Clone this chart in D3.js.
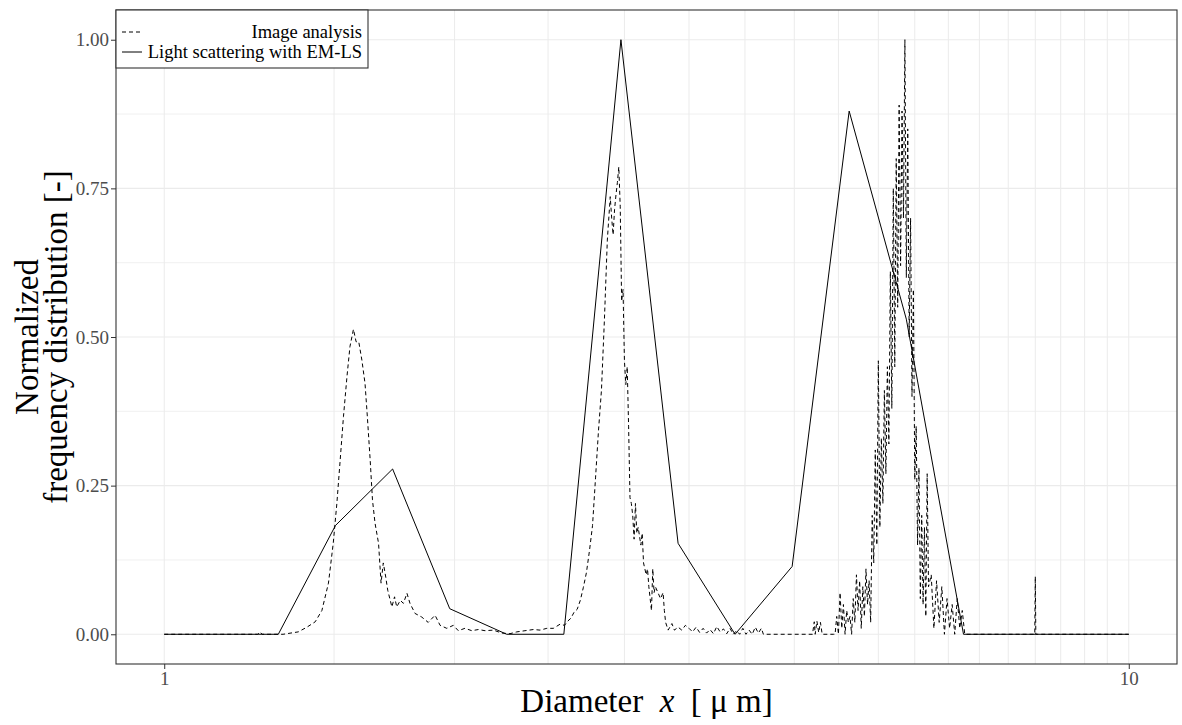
<!DOCTYPE html>
<html>
<head>
<meta charset="utf-8">
<script src="https://cdn.jsdelivr.net/npm/d3@7"></script>
<style>
body { margin: 0; background: #fff; }
text { font-family: "Liberation Serif", "Times New Roman", serif; }
</style>
</head>
<body>
<svg class="chart" width="1182" height="725"></svg>
<script>
// light scattering (EM-LS) result, log-spaced bins
var lsX = [1.00, 1.146, 1.313, 1.505, 1.725, 1.977, 2.265, 2.596, 2.975, 3.41, 3.907, 4.477, 5.13, 5.88, 6.74, 7.72, 8.85, 10.0];
var lsY = [0, 0, 0, 0.183, 0.278, 0.043, 0, 0, 1.0, 0.153, 0, 0.114, 0.88, 0.53, 0, 0, 0, 0];

// image analysis result
var imgX = [1.00, 1.25, 1.257, 1.263, 1.27, 1.328, 1.377, 1.406, 1.434, 1.457, 1.480, 1.497, 1.510, 1.522, 1.534, 1.547, 1.558, 1.571, 1.581, 1.591,
  1.603, 1.615, 1.624, 1.635, 1.644, 1.654, 1.668, 1.678, 1.687, 1.697, 1.705, 1.722, 1.733, 1.742, 1.757, 1.770, 1.785, 1.798, 1.820, 1.849,
  1.878, 1.909, 1.932, 1.963, 1.994, 2.018, 2.050, 2.084, 2.117, 2.151, 2.194, 2.239, 2.283, 2.320, 2.366, 2.414, 2.453, 2.493, 2.532, 2.573,
  2.60, 2.62, 2.64, 2.66, 2.68, 2.70, 2.72, 2.74, 2.76, 2.78, 2.80, 2.82, 2.84, 2.86, 2.88, 2.90, 2.91, 2.92, 2.93, 2.94,
  2.95, 2.96, 2.97, 2.98, 2.99, 3.00, 3.01, 3.02, 3.03, 3.04, 3.05, 3.06, 3.07, 3.08, 3.09, 3.10, 3.12, 3.13, 3.14, 3.16,
  3.17, 3.18, 3.19, 3.20, 3.21, 3.22, 3.23, 3.25, 3.27, 3.29, 3.30, 3.31, 3.33, 3.36, 3.38, 3.41, 3.44, 3.47, 3.50, 3.53,
  3.56, 3.59, 3.62, 3.65, 3.68, 3.71, 3.74, 3.77, 3.80, 3.83, 3.86, 3.89, 3.92, 3.95, 3.98, 4.01, 4.04, 4.07, 4.10, 4.13,
  4.16, 4.18, 4.70, 4.72, 4.73, 4.75, 4.77, 4.79, 4.81, 4.94, 4.96, 4.98, 5.00, 5.02, 5.04, 5.06, 5.08, 5.10, 5.12, 5.14,
  5.16, 5.18, 5.20, 5.22, 5.24, 5.26, 5.28, 5.30, 5.32, 5.34, 5.36, 5.38, 5.40, 5.42, 5.44, 5.46, 5.48, 5.50, 5.52, 5.54,
  5.56, 5.58, 5.60, 5.62, 5.64, 5.66, 5.68, 5.70, 5.72, 5.74, 5.76, 5.78, 5.80, 5.82, 5.84, 5.86, 5.88, 5.90, 5.92, 5.94,
  5.96, 5.98, 6.00, 6.02, 6.04, 6.06, 6.08, 6.10, 6.12, 6.14, 6.16, 6.18, 6.20, 6.24, 6.28, 6.32, 6.36, 6.40, 6.44, 6.48,
  6.52, 6.56, 6.60, 6.64, 6.68, 6.72, 6.76, 7.99, 8.00, 8.01, 10.0];
var imgY = [0, 0, 0.004, 0, 0, 0, 0.004, 0.012, 0.021, 0.040, 0.086, 0.153, 0.220, 0.293, 0.366, 0.434, 0.484, 0.513, 0.492, 0.492,
  0.461, 0.422, 0.366, 0.293, 0.226, 0.187, 0.153, 0.086, 0.120, 0.096, 0.074, 0.046, 0.063, 0.046, 0.057, 0.052, 0.069, 0.052, 0.035, 0.029,
  0.020, 0.032, 0.015, 0.010, 0.015, 0.006, 0.010, 0.006, 0.008, 0.006, 0.007, 0.002, 0.001, 0.004, 0.006, 0.008, 0.007, 0.010, 0.010, 0.017,
  0.015, 0.022, 0.027, 0.037, 0.042, 0.057, 0.079, 0.104, 0.141, 0.183, 0.263, 0.343, 0.411, 0.529, 0.663, 0.736, 0.700, 0.672, 0.714, 0.739,
  0.760, 0.786, 0.72, 0.56, 0.58, 0.46, 0.42, 0.45, 0.35, 0.23, 0.22, 0.20, 0.16, 0.22, 0.17, 0.18, 0.15, 0.17, 0.12, 0.10,
  0.11, 0.08, 0.06, 0.04, 0.11, 0.07, 0.08, 0.07, 0.06, 0.07, 0.04, 0.02, 0.007, 0.018, 0.007, 0.012, 0.007, 0.015, 0.010, 0.004,
  0.012, 0.003, 0.010, 0.002, 0.008, 0.001, 0.013, 0.004, 0.009, 0.001, 0.010, 0, 0.006, 0, 0.010, 0, 0.007, 0, 0.012, 0.002,
  0.010, 0, 0, 0.021, 0, 0.022, 0.003, 0.020, 0, 0, 0, 0.03, 0, 0.07, 0.01, 0.05, 0, 0.04, 0.02, 0.03,
  0, 0.06, 0.02, 0.10, 0.04, 0.09, 0.01, 0.08, 0.03, 0.11, 0.05, 0.09, 0.02, 0.20, 0.12, 0.31, 0.15, 0.46, 0.18, 0.33,
  0.22, 0.41, 0.27, 0.45, 0.32, 0.61, 0.38, 0.75, 0.45, 0.80, 0.55, 0.89, 0.62, 0.88, 0.70, 1.00, 0.60, 0.85, 0.50, 0.70,
  0.40, 0.58, 0.26, 0.35, 0.15, 0.28, 0.06, 0.20, 0.05, 0.18, 0.03, 0.27, 0.08, 0.10, 0.01, 0.09, 0.02, 0.08, 0, 0.06,
  0.01, 0.05, 0, 0.06, 0.01, 0.04, 0, 0, 0.097, 0, 0];

var yTicks = [0, 0.25, 0.5, 0.75, 1];
var yMinor = [0.125, 0.375, 0.625, 0.875];
var xGrid = [1, 1.5, 2, 2.5, 3, 3.5, 4, 4.5, 5, 5.5, 6, 6.5, 7, 7.5, 8, 8.5, 9, 9.5, 10];
var xTicks = [1, 10];
var legendLabels = ["Image analysis", "Light scattering with EM-LS"];

var pl = 116, pr = 1177, pt = 10, pb = 664;

var svg = d3.select('.chart');

var x = d3.scaleLog().domain([Math.pow(10, -0.05), Math.pow(10, 1.05)]).range([pl, pr]);
var y = d3.scaleLinear().domain([-0.05, 1.05]).range([pb, pt]);

var grid = svg.append('g').attr('class', 'grid');
grid.selectAll('.minor').data(yMinor).enter().append('line')
  .attr('x1', pl).attr('x2', pr)
  .attr('y1', function(d) { return y(d); }).attr('y2', function(d) { return y(d); })
  .attr('stroke', '#EBEBEB').attr('stroke-width', 0.7);
grid.selectAll('.vx').data(xGrid).enter().append('line')
  .attr('y1', pt).attr('y2', pb)
  .attr('x1', function(d) { return x(d); }).attr('x2', function(d) { return x(d); })
  .attr('stroke', '#EBEBEB').attr('stroke-width', 1);
grid.selectAll('.major').data(yTicks).enter().append('line')
  .attr('x1', pl).attr('x2', pr)
  .attr('y1', function(d) { return y(d); }).attr('y2', function(d) { return y(d); })
  .attr('stroke', '#EBEBEB').attr('stroke-width', 1.1);

var line = d3.line()
  .x(function(d) { return x(d[0]); })
  .y(function(d) { return y(d[1]); });

svg.append('path').datum(d3.zip(imgX, imgY))
  .attr('d', line).attr('fill', 'none')
  .attr('stroke', '#000').attr('stroke-width', 1)
  .attr('stroke-dasharray', '4,3');

svg.append('path').datum(d3.zip(lsX, lsY))
  .attr('d', line).attr('fill', 'none')
  .attr('stroke', '#000').attr('stroke-width', 1);

svg.append('rect')
  .attr('x', pl).attr('y', pt).attr('width', pr - pl).attr('height', pb - pt)
  .attr('fill', 'none').attr('stroke', '#333').attr('stroke-width', 1.1);

// axes
var yAxis = svg.append('g').attr('transform', 'translate(' + pl + ',0)')
  .call(d3.axisLeft(y).tickValues(yTicks).tickFormat(d3.format('.2f')).tickSize(5).tickPadding(2));
var xAxis = svg.append('g').attr('transform', 'translate(0,' + pb + ')')
  .call(d3.axisBottom(x).tickValues(xTicks).tickFormat(d3.format('d')).tickSize(5).tickPadding(3));
[yAxis, xAxis].forEach(function(a) {
  a.select('.domain').remove();
  a.selectAll('line').attr('stroke', '#333');
  a.selectAll('text').attr('fill', '#4D4D4D').attr('font-size', 19)
    .attr('font-family', '"Liberation Serif", "Times New Roman", serif');
});

// titles
var xt = svg.append('text')
  .attr('x', (pl + pr) / 2).attr('y', 712)
  .attr('text-anchor', 'middle').attr('font-size', 33)
  .style('white-space', 'pre');
xt.append('tspan').text('Diameter  ');
xt.append('tspan').attr('font-style', 'italic').text('x');
xt.append('tspan').text('  [ μ m]');

var yt = svg.append('g').attr('transform', 'translate(0,' + (pt + pb) / 2 + ') rotate(-90)');
yt.append('text').attr('x', 0).attr('y', 38).attr('text-anchor', 'middle')
  .attr('font-size', 33).text('Normalized');
yt.append('text').attr('x', 0).attr('y', 67).attr('text-anchor', 'middle')
  .attr('font-size', 33).text('frequency distribution [-]');

// legend
var lg = svg.append('g').attr('class', 'legend');
lg.append('rect').attr('x', pl).attr('y', pt).attr('width', 252).attr('height', 58)
  .attr('fill', '#fff').attr('stroke', '#333').attr('stroke-width', 1.1);
var items = lg.selectAll('.item').data(legendLabels).enter().append('g')
  .attr('transform', function(d, i) { return 'translate(0,' + (32 + i * 20) + ')'; });
items.append('line').attr('x1', 122).attr('x2', 142).attr('y1', 0).attr('y2', 0)
  .attr('stroke', '#000').attr('stroke-width', 1)
  .attr('stroke-dasharray', function(d, i) { return i == 0 ? '4,3' : null; });
items.append('text').attr('x', 362).attr('y', 6).attr('text-anchor', 'end')
  .attr('font-size', 18.5).text(function(d) { return d; });
</script>
</body>
</html>
